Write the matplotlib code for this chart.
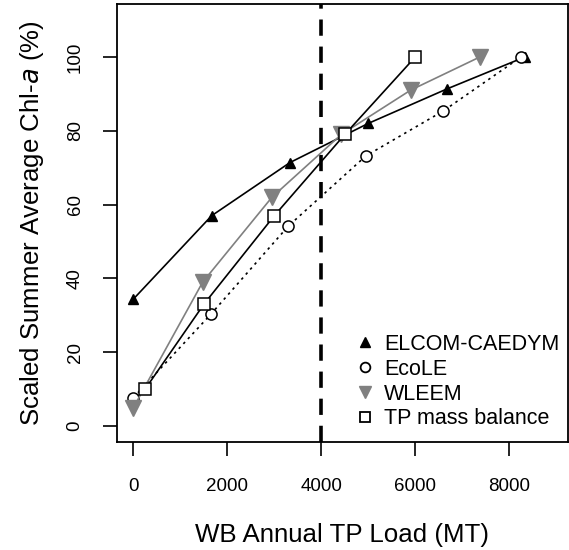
import matplotlib
matplotlib.use("Agg")
import matplotlib.pyplot as plt
from matplotlib.lines import Line2D

plt.rcParams['font.family'] = ['Liberation Sans', 'DejaVu Sans']

elcom_x = [0, 1667, 3334, 5000, 6667, 8334]
elcom_y = [34.4, 57.0, 71.4, 82.0, 91.3, 100.0]
ecole_x = [0, 1650, 3300, 4950, 6600, 8250]
ecole_y = [7.7, 30.3, 54.2, 73.2, 85.4, 100.0]
wleem_x = [0, 1475, 2950, 4425, 5900, 7375]
wleem_y = [5.0, 39.0, 62.0, 79.0, 91.0, 100.0]
tpmb_x = [250, 1500, 3000, 4500, 6000]
tpmb_y = [10.0, 33.0, 57.0, 79.0, 100.0]
target_load = 4000
xticks = [0, 2000, 4000, 6000, 8000]
yticks = [0, 20, 40, 60, 80, 100]

fig = plt.figure(figsize=(5.69, 5.5), dpi=100)
ax = fig.add_axes([0.2056, 0.196, 0.7925, 0.797])

ax.axvline(target_load, color='black', lw=2.6, ls=(0, (4.5, 3)), zorder=1)

ax.plot(elcom_x, elcom_y, color='black', lw=1.2, marker='^', ms=7,
        mfc='black', mec='black', label='ELCOM-CAEDYM', zorder=3)
ax.plot(ecole_x, ecole_y, color='black', lw=1.2, ls=(0, (1.5, 2.5)), marker='o', ms=8,
        mfc='white', mec='black', mew=1.1, label='EcoLE', zorder=3)
ax.plot(wleem_x, wleem_y, color='#808080', lw=1.2, marker='v', ms=11,
        mfc='#808080', mec='#808080', label='WLEEM', zorder=3)
ax.plot(tpmb_x, tpmb_y, color='black', lw=1.2, marker='s', ms=9,
        mfc='white', mec='black', mew=1.1, label='TP mass balance', zorder=4)

ax.set_xlim(-350, 9250)
ax.set_ylim(-4.4, 114.4)
ax.set_xticks(xticks)
ax.set_yticks(yticks)
ax.tick_params(axis='both', direction='out', length=10, width=1.2, labelsize=13.5)
ax.tick_params(axis='x', pad=16)
ax.tick_params(axis='y', pad=14)
for lab in ax.get_yticklabels():
    lab.set_rotation(90)
    lab.set_va('center')
for s in ax.spines.values():
    s.set_linewidth(1.3)

ax.set_xlabel('WB Annual TP Load (MT)', fontsize=18.6, labelpad=20)
ax.set_ylabel('Scaled Summer Average Chl-$\\mathit{a}$ (%)', fontsize=18.6, labelpad=15)

handles = [
    Line2D([], [], ls='None', marker='^', ms=7, mfc='black', mec='black'),
    Line2D([], [], ls='None', marker='o', ms=7, mfc='white', mec='black', mew=1.3),
    Line2D([], [], ls='None', marker='v', ms=9, mfc='#808080', mec='#808080'),
    Line2D([], [], ls='None', marker='s', ms=7, mfc='white', mec='black', mew=1.3),
]
labels = ['ELCOM-CAEDYM', 'EcoLE', 'WLEEM', 'TP mass balance']
leg = ax.legend(handles, labels, loc='lower right', bbox_to_anchor=(0.998, 0.012),
                frameon=False, fontsize=15.5,
                handlelength=0.8, handletextpad=0.5, labelspacing=0.18,
                borderaxespad=0.0, borderpad=0.35)

fig.savefig('out.png', dpi=100)
